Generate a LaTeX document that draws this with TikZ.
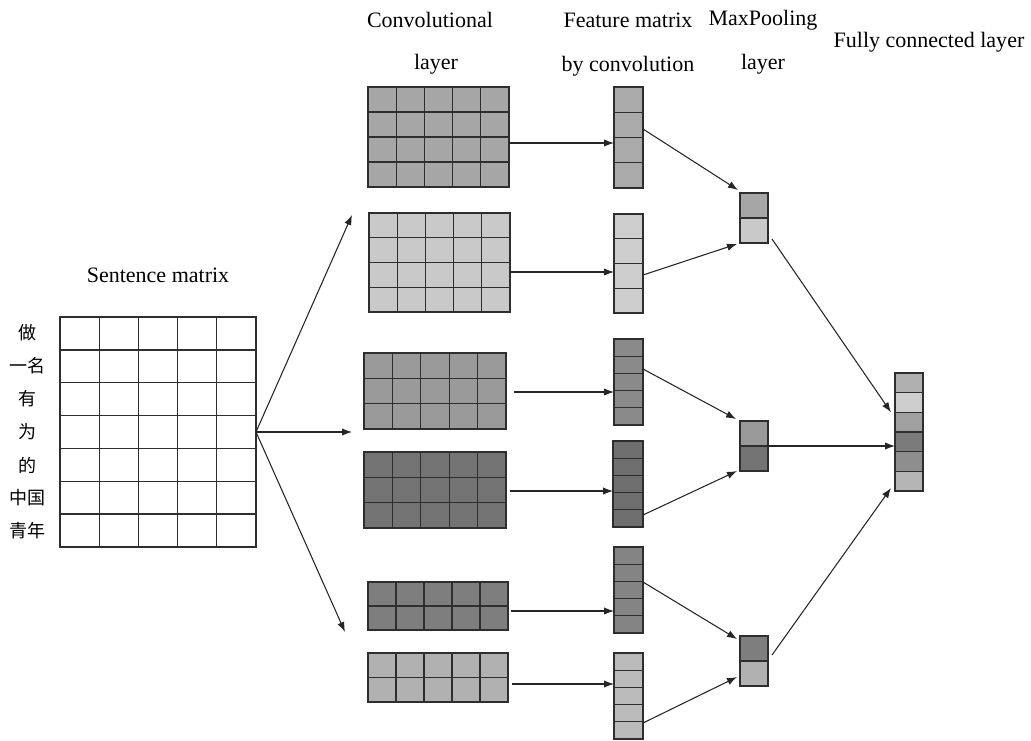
\documentclass[tikz,border=0pt]{standalone}
\usepackage{fontspec}
\setmainfont{Liberation Serif}
\newfontfamily\cjk{Noto Sans CJK SC}
\usetikzlibrary{calc,arrows.meta}
\definecolor{linec}{HTML}{2E2E2E}
\definecolor{gA}{HTML}{A6A6A6}
\definecolor{gB}{HTML}{C9C9C9}
\definecolor{gC}{HTML}{9A9A9A}
\definecolor{gD}{HTML}{737373}
\definecolor{gE}{HTML}{7E7E7E}
\definecolor{gF}{HTML}{B1B1B1}
\definecolor{fA}{HTML}{AAAAAA}
\definecolor{fB}{HTML}{CDCDCD}
\definecolor{fC}{HTML}{8A8A8A}
\definecolor{fD}{HTML}{6E6E6E}
\definecolor{fE}{HTML}{848484}
\definecolor{fF}{HTML}{BBBBBB}
\definecolor{hA}{HTML}{B0B0B0}
\definecolor{hB}{HTML}{CDCDCD}
\definecolor{hC}{HTML}{A0A0A0}
\definecolor{hD}{HTML}{7B7B7B}
\definecolor{hE}{HTML}{8E8E8E}
\definecolor{hF}{HTML}{B5B5B5}
\tikzset{
  gbox/.style={draw=linec, line width=1pt, inner sep=0pt, outer sep=0pt},
  gline/.style={draw=linec, line width=1pt},
  conn/.style={draw=black!85, line width=0.8pt, -{Latex[length=7.5pt,width=5.5pt]}},
  lab/.style={font=\fontsize{16.5}{19}\selectfont, inner sep=0pt},
  zh/.style={font=\cjk\fontsize{13.5}{15}\selectfont, inner sep=0pt},
}
% name, x1, y1, x2, y2, cols, rows, fill
\newcommand\mygrid[8]{%
  \node[gbox, fill=#8, minimum width={(#4-#2)*0.75pt}, minimum height={(#5-#3)*0.75pt}]
    (#1) at ({(#2+#4)/2},{(#3+#5)/2}) {};
  \ifnum#6>1
    \pgfmathtruncatemacro\mylastc{#6-1}%
    \foreach \k in {1,...,\mylastc}{\draw[gline] ($(#1.north west)!\k/#6!(#1.north east)$) -- ($(#1.south west)!\k/#6!(#1.south east)$);}%
  \fi
  \ifnum#7>1
    \pgfmathtruncatemacro\mylastr{#7-1}%
    \foreach \k in {1,...,\mylastr}{\draw[gline] ($(#1.north west)!\k/#7!(#1.south west)$) -- ($(#1.north east)!\k/#7!(#1.south east)$);}%
  \fi
}
% name, x1, y1, x2, y2, fill
\newcommand\mycell[6]{%
  \node[gbox, fill=#6, minimum width={(#4-#2)*0.75pt}, minimum height={(#5-#3)*0.75pt}]
    (#1) at ({(#2+#4)/2},{(#3+#5)/2}) {};
}
\begin{document}
\begin{tikzpicture}[x=0.75pt,y=-0.75pt]
\useasboundingbox (0,0) rectangle (1031,740);

% labels
\node[lab] (lconv1) at (430,20) {Convolutional};
\node[lab] (lconv2) at (436,64) {layer};
\node[lab] (lfeat1) at (628,20) {Feature matrix};
\node[lab] (lfeat2) at (628,66) {by convolution};
\node[lab] (lpool1) at (763,20) {MaxPooling};
\node[lab] (lpool2) at (763,64) {layer};
\node[lab] (lfc) at (929,42) {Fully connected layer};
\node[lab] (lsent) at (158,275) {Sentence matrix};

% sentence matrix
\mygrid{sm}{60}{317}{256}{547}{5}{7}{white}
\node[zh] (w1) at (27,333) {做};
\node[zh] (w2) at (27,366) {一名};
\node[zh] (w3) at (27,399) {有};
\node[zh] (w4) at (27,432) {为};
\node[zh] (w5) at (27,465) {的};
\node[zh] (w6) at (27,498) {中国};
\node[zh] (w7) at (27,531) {青年};

% convolution layers
\mygrid{c1}{368}{87}{509}{187}{5}{4}{gA}
\mygrid{c2}{369}{213}{510}{312}{5}{4}{gB}
\mygrid{c3}{364}{353}{506}{429}{5}{3}{gC}
\mygrid{c4}{364}{452}{506}{528}{5}{3}{gD}
\mygrid{c5}{368}{582}{508}{630}{5}{2}{gE}
\mygrid{c6}{368}{653}{508}{702}{5}{2}{gF}

% feature vectors
\mygrid{f1}{614}{87}{643}{188}{1}{4}{fA}
\mygrid{f2}{614}{214}{643}{313}{1}{4}{fB}
\mygrid{f3}{614}{339}{643}{425}{1}{5}{fC}
\mygrid{f4}{613}{441}{643}{527}{1}{5}{fD}
\mygrid{f5}{614}{547}{643}{633}{1}{5}{fE}
\mygrid{f6}{614}{653}{643}{739}{1}{5}{fF}

% pooling
\mycell{p1a}{740}{193}{768}{218}{gA}
\mycell{p1b}{740}{218}{768}{243}{gB}
\mycell{p2a}{740}{421}{768}{446}{gC}
\mycell{p2b}{740}{446}{768}{471}{gD}
\mycell{p3a}{740}{636}{768}{661}{gE}
\mycell{p3b}{740}{661}{768}{686}{gF}

% fully connected
\mycell{fc1}{895}{373}{923}{392.7}{hA}
\mycell{fc2}{895}{392.7}{923}{412.3}{hB}
\mycell{fc3}{895}{412.3}{923}{432}{hC}
\mycell{fc4}{895}{432}{923}{451.7}{hD}
\mycell{fc5}{895}{451.7}{923}{471.3}{hE}
\mycell{fc6}{895}{471.3}{923}{491}{hF}

% sentence matrix -> conv groups
\coordinate (t1) at (352,215);
\coordinate (t2) at (352,432);
\coordinate (t3) at (345,632);
\draw[conn] (sm.east) -- (t1);
\draw[conn] (sm.east) -- (t2);
\draw[conn] (sm.east) -- (t3);

% conv -> feature
\draw[conn] (c1.east |- 0,143) -- (f1.west |- 0,143);
\draw[conn] (c2.east |- 0,272) -- (f2.west |- 0,272);
\draw[conn] ($(c3.east |- 0,392)+(8,0)$) -- (f3.west |- 0,392);
\draw[conn] ($(c4.east |- 0,491)+(4,0)$) -- (f4.west |- 0,491);
\draw[conn] ($(c5.east |- 0,611)+(3,0)$) -- (f5.west |- 0,611);
\draw[conn] ($(c6.east |- 0,684)+(4,0)$) -- (f6.west |- 0,684);

% feature -> pooling
\draw[conn] (f1.east |- 0,129) -- ($(p1a.north west)+(-2,-3)$);
\draw[conn] (f2.east |- 0,275) -- ($(p1b.south west)+(-3,1)$);
\draw[conn] (f3.east |- 0,369) -- ($(p2a.north west)+(-4,-2)$);
\draw[conn] (f4.east |- 0,515) -- ($(p2b.south west)+(-3,0)$);
\draw[conn] (f5.east |- 0,582) -- ($(p3a.north west)+(-3,3)$);
\draw[conn] (f6.east |- 0,723) -- ($(p3b.south west)+(-3,-9)$);

% pooling -> fully connected
\draw[conn] ($(p1b.south east)+(4,-4)$) -- ($(fc2.south west)+(-4,0)$);
\draw[conn] (p2a.south east) -- (fc4.west |- p2a.south east);
\draw[conn] ($(p3b.north east)+(4,-6)$) -- ($(fc6.south west)+(-4,-3)$);
\end{tikzpicture}
\end{document}
